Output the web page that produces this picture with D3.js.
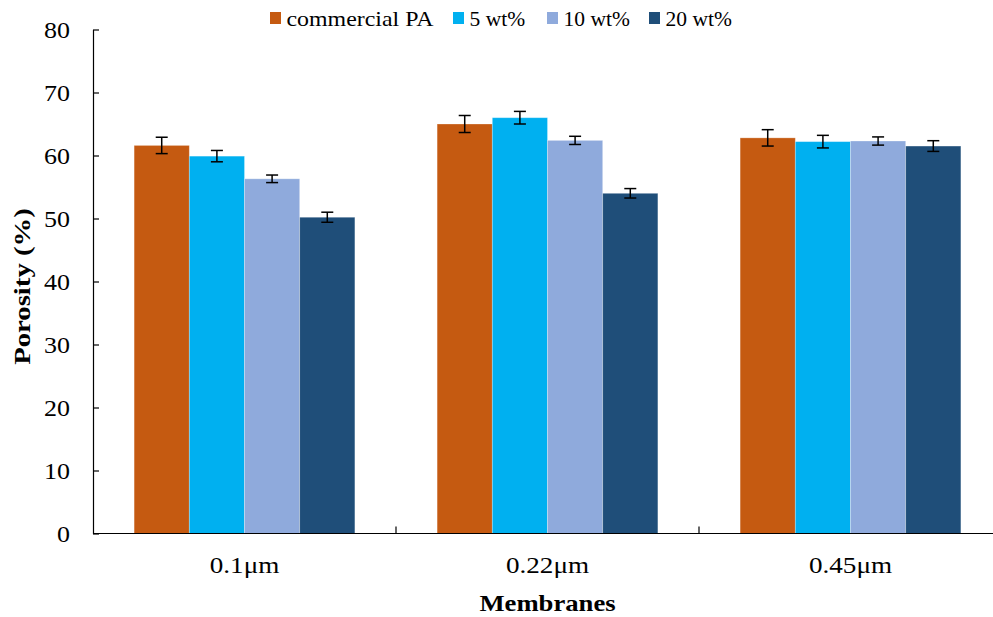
<!DOCTYPE html>
<html>
<head>
<meta charset="utf-8">
<script src="https://cdn.jsdelivr.net/npm/d3@7"></script>
<style>
  body { margin: 0; background: #fff; }
  svg { display: block; font-family: "Liberation Serif", "Times New Roman", serif; }
</style>
</head>
<body>
<svg id="chart" width="993" height="617"></svg>
<script>
// Membrane pore sizes and sample series
const categories = ["0.1\u03bcm", "0.22\u03bcm", "0.45\u03bcm"];
const seriesNames = ["commercial PA", "5 wt%", "10 wt%", "20 wt%"];
const seriesColors = ["#C55A11", "#00B0F0", "#8FAADC", "#1F4E79"];

// Porosity (%) per series, one value per membrane
const commercialPA = [61.6, 65.0, 62.8];
const wt5 = [59.9, 66.0, 62.2];
const wt10 = [56.3, 62.4, 62.3];
const wt20 = [50.2, 54.0, 61.5];

// Standard deviations for the error bars
const commercialPAErr = [1.3, 1.35, 1.3];
const wt5Err = [0.9, 1.0, 1.0];
const wt10Err = [0.6, 0.65, 0.65];
const wt20Err = [0.8, 0.75, 0.85];

const yTicks = [0, 10, 20, 30, 40, 50, 60, 70, 80];

const values = [commercialPA, wt5, wt10, wt20];
const errors = [commercialPAErr, wt5Err, wt10Err, wt20Err];

const svg = d3.select("#chart");
const plotLeft = 93, plotRight = 1002, plotTop = 29.5, plotBottom = 533.5;
const fontSize = 23;

const x0 = d3.scaleBand().domain(categories).range([plotLeft, plotRight]).paddingInner(0).paddingOuter(0);
const x1 = d3.scaleBand().domain(seriesNames).range([0, x0.bandwidth()]).paddingInner(0).paddingOuter(0.745);
const y = d3.scaleLinear().domain([0, 80]).range([plotBottom, plotTop]);

// Horizontally widened text label
function label(parent, x, yPos, str, anchor, bold, rotate, sx) {
  const t = parent.append("g")
    .attr("transform", `translate(${x},${yPos})${rotate ? " rotate(-90)" : ""} scale(${sx},1)`)
    .append("text")
    .attr("text-anchor", anchor)
    .attr("font-size", fontSize)
    .attr("fill", "#000")
    .text(str);
  if (bold) t.attr("font-weight", "bold");
  return t;
}

// Bars
const rows = [];
categories.forEach((c, i) => {
  seriesNames.forEach((s, j) => {
    rows.push({ cat: c, series: s, value: values[j][i], err: errors[j][i], color: seriesColors[j] });
  });
});

const g = svg.append("g");
g.selectAll("rect.bar").data(rows).enter().append("rect")
  .attr("class", "bar")
  .attr("x", d => x0(d.cat) + x1(d.series))
  .attr("y", d => y(d.value))
  .attr("width", x1.bandwidth())
  .attr("height", d => y(0) - y(d.value))
  .attr("fill", d => d.color)
  .attr("stroke", "#ffffff")
  .attr("stroke-opacity", 0.35)
  .attr("stroke-width", 0.8);

// Error bars
const eb = g.selectAll("g.err").data(rows).enter().append("g").attr("class", "err")
  .attr("stroke", "#000").attr("stroke-width", 1.5);
const cx = d => x0(d.cat) + x1(d.series) + x1.bandwidth() / 2;
eb.append("line")
  .attr("x1", cx).attr("x2", cx)
  .attr("y1", d => y(d.value + d.err)).attr("y2", d => y(d.value - d.err));
eb.append("line")
  .attr("x1", d => cx(d) - 6).attr("x2", d => cx(d) + 6)
  .attr("y1", d => y(d.value + d.err)).attr("y2", d => y(d.value + d.err));
eb.append("line")
  .attr("x1", d => cx(d) - 6).attr("x2", d => cx(d) + 6)
  .attr("y1", d => y(d.value - d.err)).attr("y2", d => y(d.value - d.err));

// Y axis with inward ticks
const tickSx = 1.13;
const yAxis = d3.axisLeft(y).tickValues(yTicks).tickSize(-6).tickPadding(23).tickSizeOuter(0);
const yg = svg.append("g").attr("transform", `translate(${plotLeft},0)`).call(yAxis);
yg.select(".domain").attr("stroke", "#000").attr("stroke-width", 1.2);
yg.selectAll(".tick line").attr("stroke", "#000").attr("stroke-width", 1.2);
yg.selectAll(".tick text")
  .attr("font-size", fontSize).attr("fill", "#000")
  .attr("font-family", "Liberation Serif, Times New Roman, serif")
  .attr("x", -23 / tickSx)
  .attr("dy", "0.36em")
  .attr("transform", `scale(${tickSx},1)`);

// X axis: baseline, boundary ticks and category labels
svg.append("line").attr("x1", plotLeft).attr("x2", plotRight).attr("y1", plotBottom).attr("y2", plotBottom)
  .attr("stroke", "#000").attr("stroke-width", 1.2);
svg.selectAll("line.xtick").data(categories.slice(1)).enter().append("line")
  .attr("class", "xtick")
  .attr("x1", d => x0(d)).attr("x2", d => x0(d))
  .attr("y1", plotBottom).attr("y2", plotBottom - 7)
  .attr("stroke", "#000").attr("stroke-width", 1.2);
categories.forEach(c => label(svg, x0(c) + x0.bandwidth() / 2, 573, c, "middle", false, false, 1.18));

// Axis titles
label(svg, (plotLeft + plotRight) / 2, 611, "Membranes", "middle", true, false, 1.16);
label(svg, 30, 286.5, "Porosity (%)", "middle", true, true, 1.25);

// Legend
const legendX = [270, 453, 547, 649];
seriesNames.forEach((s, i) => {
  svg.append("rect").attr("x", legendX[i]).attr("y", 12).attr("width", 11).attr("height", 12)
    .attr("fill", seriesColors[i]);
  const t = svg.append("text")
    .attr("x", legendX[i] + 16.5).attr("y", 26)
    .attr("font-size", 21.5)
    .text(s);
  if (i === 0) t.attr("textLength", 147).attr("lengthAdjust", "spacingAndGlyphs");
});
</script>
</body>
</html>
